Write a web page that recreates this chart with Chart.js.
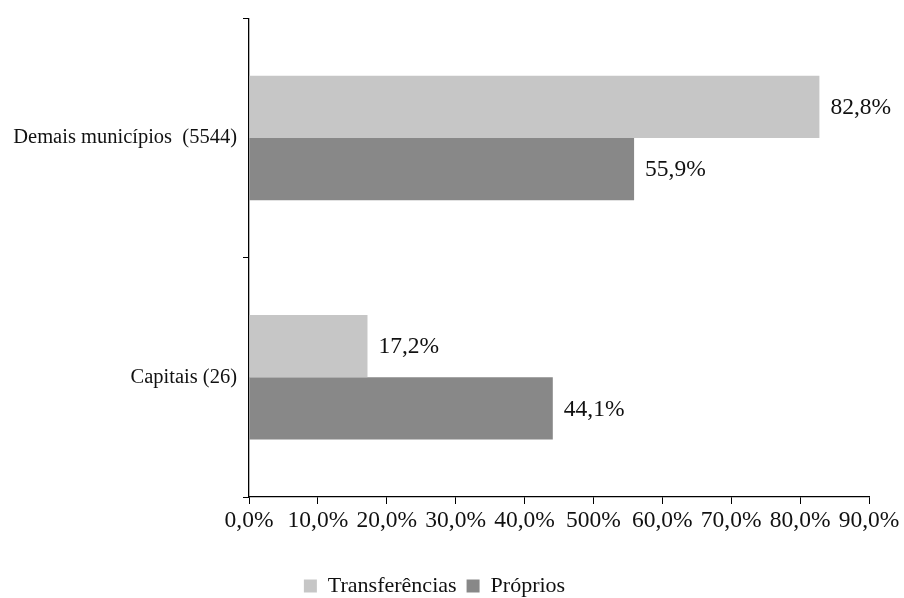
<!DOCTYPE html>
<html>
<head>
<meta charset="utf-8">
<script src="https://cdn.jsdelivr.net/npm/chart.js@4"></script>
<style>
  html, body { margin: 0; padding: 0; background: #fff; }
  #wrap { width: 904px; height: 598px; }
</style>
</head>
<body>
<div id="wrap"><canvas id="grafico"></canvas></div>
<script>
// categorias e séries
const categorias = ["Demais municípios  (5544)", "Capitais (26)"];
const transferencias = [82.8, 17.2];
const proprios = [55.9, 44.1];
// rótulos do eixo x, como aparecem no original (inclusive o "500%")
const rotulosX = ["0,0%", "10,0%", "20,0%", "30,0%", "40,0%", "500%", "60,0%", "70,0%", "80,0%", "90,0%"];

const fonte = "'Liberation Serif', 'Times New Roman', serif";

function formataPct(v) {
    return v.toFixed(1).replace(".", ",") + "%";
}

// escreve o valor ao lado de cada barra
const rotulosBarras = {
    id: "rotulosBarras",
    afterInit(chart) {
        // legenda mais baixa, colada no fim da figura
        const fitOriginal = chart.legend.fit.bind(chart.legend);
        chart.legend.fit = function () {
            fitOriginal();
            this.height = 33;
        };
    },
    afterDatasetsDraw(chart) {
        const ctx = chart.ctx;
        ctx.save();
        ctx.font = "23.5px " + fonte;
        ctx.fillStyle = "#111";
        ctx.textAlign = "left";
        ctx.textBaseline = "middle";
        chart.data.datasets.forEach((ds, i) => {
            chart.getDatasetMeta(i).data.forEach((barra, j) => {
                ctx.fillText(formataPct(ds.data[j]), barra.x + 11, barra.y + 1);
            });
        });
        ctx.restore();
    }
};

var ctx = document.getElementById("grafico").getContext("2d");
var grafico = new Chart(ctx, {
    type: "bar",
    data: {
        labels: categorias,
        datasets: [
            {
                label: "Transferências",
                data: transferencias,
                backgroundColor: "#c6c6c6",
                categoryPercentage: 0.52,
                barPercentage: 1.0
            },
            {
                label: "Próprios",
                data: proprios,
                backgroundColor: "#888888",
                categoryPercentage: 0.52,
                barPercentage: 1.0
            }
        ]
    },
    options: {
        indexAxis: "y",
        responsive: true,
        maintainAspectRatio: false,
        animation: false,
        layout: {
            padding: { left: 0, right: 35, top: 7, bottom: 0 }
        },
        scales: {
            x: {
                min: 0,
                max: 90,
                ticks: {
                    stepSize: 10,
                    color: "#111",
                    padding: 3,
                    maxRotation: 0,
                    autoSkip: false,
                    font: { family: fonte, size: 23.5 },
                    callback: (v, i) => rotulosX[i]
                },
                grid: {
                    drawOnChartArea: false,
                    color: "#000",
                    tickLength: 7
                },
                border: { color: "#000", width: 1.3 },
                afterFit: s => { s.height = 68; }
            },
            y: {
                ticks: {
                    color: "#111",
                    padding: 6,
                    font: { family: fonte, size: 20.5 }
                },
                grid: {
                    drawOnChartArea: false,
                    offset: true,
                    color: "#000",
                    tickLength: 6
                },
                border: { color: "#000", width: 1.3 },
                afterFit: s => { s.width = 249; }
            }
        },
        plugins: {
            legend: {
                position: "bottom",
                labels: {
                    color: "#111",
                    boxWidth: 13,
                    boxHeight: 13,
                    padding: 10,
                    font: { family: fonte, size: 22 }
                }
            },
            tooltip: { enabled: false }
        }
    },
    plugins: [rotulosBarras]
});
</script>
</body>
</html>
